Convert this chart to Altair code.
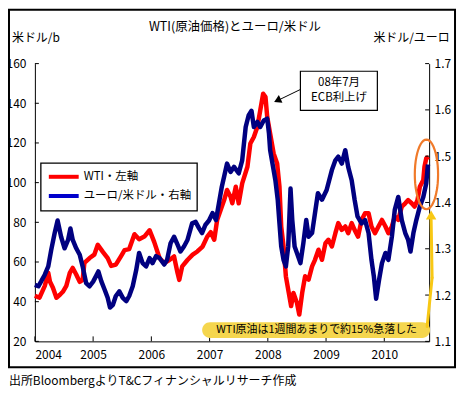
import math
import altair as alt
import pandas as pd

# ---------------- data ----------------
wti_t = [2004.00, 2004.08, 2004.17, 2004.23, 2004.26, 2004.31, 2004.37, 2004.43, 2004.48, 2004.54,
         2004.60, 2004.65, 2004.71, 2004.77, 2004.82, 2004.85, 2004.94, 2005.02, 2005.08, 2005.17,
         2005.25, 2005.31, 2005.39, 2005.48, 2005.54, 2005.62, 2005.71, 2005.79, 2005.88, 2005.97,
         2006.05, 2006.14, 2006.22, 2006.31, 2006.39, 2006.45, 2006.48, 2006.53, 2006.62, 2006.71,
         2006.79, 2006.88, 2006.96, 2007.02, 2007.08, 2007.13, 2007.19, 2007.25, 2007.30, 2007.36,
         2007.39, 2007.45, 2007.50, 2007.56, 2007.65, 2007.70, 2007.76, 2007.82, 2007.87, 2007.92,
         2007.96, 2007.99, 2008.04, 2008.10, 2008.16, 2008.20, 2008.23, 2008.27, 2008.31, 2008.36,
         2008.40, 2008.44, 2008.50, 2008.54, 2008.59, 2008.64, 2008.70, 2008.76, 2008.81, 2008.87,
         2008.93, 2008.99, 2009.04, 2009.10, 2009.16, 2009.21, 2009.27, 2009.33, 2009.38, 2009.44,
         2009.49, 2009.55, 2009.61, 2009.67, 2009.73, 2009.78, 2009.84, 2009.90, 2009.96, 2010.02,
         2010.07, 2010.13, 2010.18, 2010.24, 2010.30, 2010.36, 2010.41, 2010.47, 2010.52, 2010.57,
         2010.61, 2010.67, 2010.69, 2010.72, 2010.76]
wti_v = [43, 42, 48, 54.5, 50, 47, 42, 43.5, 45, 48,
         54.5, 57, 53.7, 50, 51, 59.5, 62, 63.7, 68.7, 65,
         62, 58, 58.7, 63, 66, 66.5, 74, 71.5, 72.8, 76,
         70, 62, 59.5, 61, 62.8, 54.5, 51, 57.8, 61, 63.7,
         65.3, 67.8, 72.8, 75, 71.2, 81.2, 86.2, 91.2, 96.3, 92.9,
         89.6, 97.9, 89.6, 99.6, 108, 119.7, 123, 128, 136.4, 144.8,
         143.1, 133, 124.7, 114.7, 109.7, 97.9, 77.9, 67.8, 52.8, 44.4,
         37.8, 44.4, 39.4, 33.5, 44.4, 52.8, 51.1, 57.8, 61.1, 66.2,
         61.1, 69.5, 71.2, 67.8, 74.5, 79.6, 76.2, 77.9, 74.5, 79.6,
         76.2, 72.8, 81.2, 84.6, 84.6, 77.9, 74.5, 77.9, 81.2, 77.9,
         74.5, 77.9, 82.9, 81.2, 87.9, 89.6, 91.2, 89.6, 87.9, 91.2,
         97.9, 101.3, 108, 112.2, 113]

eur_t = [2004.00, 2004.06, 2004.11, 2004.17, 2004.23, 2004.28, 2004.34, 2004.39, 2004.45, 2004.51,
         2004.57, 2004.61, 2004.65, 2004.71, 2004.77, 2004.82, 2004.88, 2004.94, 2005.00, 2005.05,
         2005.09, 2005.14, 2005.20, 2005.25, 2005.29, 2005.34, 2005.39, 2005.45, 2005.51, 2005.57,
         2005.62, 2005.68, 2005.74, 2005.79, 2005.85, 2005.91, 2005.97, 2006.02, 2006.08, 2006.14,
         2006.22, 2006.27, 2006.33, 2006.39, 2006.45, 2006.50, 2006.56, 2006.62, 2006.70, 2006.76,
         2006.82, 2006.87, 2006.93, 2006.99, 2007.05, 2007.11, 2007.16, 2007.21, 2007.25, 2007.30,
         2007.36, 2007.42, 2007.50, 2007.56, 2007.62, 2007.67, 2007.72, 2007.76, 2007.82, 2007.87,
         2007.93, 2007.99, 2008.02, 2008.04, 2008.09, 2008.13, 2008.17, 2008.20, 2008.23, 2008.27,
         2008.31, 2008.35, 2008.39, 2008.42, 2008.46, 2008.50, 2008.56, 2008.61, 2008.66, 2008.70,
         2008.76, 2008.81, 2008.86, 2008.93, 2009.01, 2009.10, 2009.16, 2009.21, 2009.27, 2009.33,
         2009.38, 2009.44, 2009.49, 2009.54, 2009.61, 2009.67, 2009.73, 2009.78, 2009.82, 2009.86,
         2009.91, 2009.96, 2010.02, 2010.07, 2010.13, 2010.18, 2010.24, 2010.30, 2010.36, 2010.41,
         2010.45, 2010.50, 2010.55, 2010.61, 2010.67, 2010.72, 2010.75]
eur_v = [1.222, 1.219, 1.230, 1.244, 1.262, 1.297, 1.334, 1.361, 1.326, 1.301,
         1.319, 1.344, 1.319, 1.301, 1.287, 1.262, 1.226, 1.219, 1.229, 1.241,
         1.251, 1.230, 1.211, 1.194, 1.173, 1.179, 1.198, 1.208, 1.194, 1.187,
         1.198, 1.219, 1.254, 1.291, 1.269, 1.262, 1.280, 1.269, 1.284, 1.280,
         1.266, 1.276, 1.312, 1.326, 1.309, 1.294, 1.305, 1.319, 1.355, 1.358,
         1.344, 1.334, 1.352, 1.361, 1.377, 1.362, 1.398, 1.434, 1.456, 1.484,
         1.466, 1.477, 1.463, 1.491, 1.563, 1.588, 1.598, 1.563, 1.574, 1.563,
         1.577, 1.581, 1.549, 1.513, 1.477, 1.448, 1.406, 1.355, 1.305, 1.276,
         1.262, 1.305, 1.430, 1.362, 1.305, 1.291, 1.269, 1.312, 1.362, 1.326,
         1.334, 1.377, 1.420, 1.406, 1.427, 1.470, 1.491, 1.499, 1.484, 1.513,
         1.477, 1.448, 1.406, 1.370, 1.355, 1.362, 1.334, 1.276, 1.241, 1.192,
         1.233, 1.269, 1.291, 1.276, 1.326, 1.384, 1.412, 1.362, 1.334, 1.319,
         1.294, 1.334, 1.362, 1.391, 1.412, 1.441, 1.482]

series_names = ["WTI・左軸", "ユーロ/米ドル・右軸"]
series_colors = ["#ff0000", "#000080"]
legend_colors = ["#ff0000", "#0000cc"]
left_ticks = [20, 40, 60, 80, 100, 120, 140, 160]
right_ticks = [1.1, 1.2, 1.3, 1.4, 1.5, 1.6, 1.7]
year_ticks = [2004, 2005, 2006, 2007, 2008, 2009, 2010]

FONT = "Noto Sans CJK JP"
W, H = 396, 279

wti_df = pd.DataFrame({"t": wti_t, "v": wti_v, "s": series_names[0]})
eur_df = pd.DataFrame({"t": eur_t, "v": eur_v, "s": series_names[1]})
one = pd.DataFrame({"a": [0]})

x_enc = alt.X("t:Q", scale=alt.Scale(domain=[2004, 2010.77], nice=False, zero=False),
              axis=alt.Axis(values=year_ticks, format="d", title=None, ticks=False, grid=False,
                            labelPadding=8, labelFontSize=12, labelFont=FONT, labelColor="black",
                            domainColor="black", domainWidth=1))
yl_enc = alt.Y("v:Q", scale=alt.Scale(domain=[20, 160], nice=False, zero=False),
               axis=alt.Axis(orient="left", values=left_ticks, title=None, ticks=False, grid=False,
                             labelPadding=9, labelFontSize=12, labelFont=FONT, labelColor="black",
                             domainColor="black", domainWidth=1))
yr_enc = alt.Y("v:Q", scale=alt.Scale(domain=[1.1, 1.7], nice=False, zero=False),
               axis=alt.Axis(orient="right", values=right_ticks, format=".1f", title=None, ticks=False,
                             grid=False, labelPadding=5, labelFontSize=12, labelFont=FONT,
                             labelColor="black", domainColor="black", domainWidth=1))
color_enc = alt.Color("s:N", scale=alt.Scale(domain=series_names, range=series_colors), legend=None)

red_line = alt.Chart(wti_df).mark_line(strokeWidth=4.5, strokeJoin="round").encode(
    x=x_enc, y=yl_enc, color=color_enc)
blue_line = alt.Chart(eur_df).mark_line(strokeWidth=4.5, strokeJoin="round").encode(
    x=x_enc, y=yr_enc, color=color_enc)

left_tick_marks = alt.Chart(pd.DataFrame({"v": left_ticks})).mark_rule(color="black").encode(
    y=yl_enc, x=alt.value(0), x2=alt.value(4))
right_tick_marks = alt.Chart(pd.DataFrame({"v": right_ticks})).mark_rule(color="black").encode(
    y=yr_enc, x=alt.value(W - 4), x2=alt.value(W))
x_tick_marks = alt.Chart(pd.DataFrame({"t": year_ticks})).mark_rule(color="black").encode(
    x=x_enc, y=alt.value(H - 5), y2=alt.value(H))


def txt(s, x, y, size=12, align="left"):
    return alt.Chart(one).mark_text(text=s, font=FONT, fontSize=size, align=align,
                                    baseline="middle", color="black").encode(
        x=alt.value(x), y=alt.value(y))


def rect(x, x2, y, y2, **kw):
    return alt.Chart(one).mark_rect(**kw).encode(
        x=alt.value(x), x2=alt.value(x2), y=alt.value(y), y2=alt.value(y2))


def seg(x, y, x2, y2, **kw):
    return alt.Chart(one).mark_rule(**kw).encode(
        x=alt.value(x), y=alt.value(y), x2=alt.value(x2), y2=alt.value(y2))


def pt(x, y, **kw):
    return alt.Chart(one).mark_point(**kw).encode(x=alt.value(x), y=alt.value(y))


# ellipse outline shape (unit path, scaled by sqrt(size)/2)
n = 48
ell = "M" + " L".join(
    f"{0.334 * math.sin(2 * math.pi * i / n):.3f},{-math.cos(2 * math.pi * i / n):.3f}" for i in range(n)
) + " Z"

decor = [
    # outer frame
    rect(-26, 422, -54, 305, fill=None, filled=False, stroke="black", strokeWidth=2),
    txt("WTI(原油価格)とユーロ/米ドル", 201, -37, 12.5, "center"),
    txt("米ドル/b", -23, -26, 12),
    txt("米ドル/ユーロ", 340, -26, 12),
    txt("出所BloombergよりT&Cフィナンシャルリサーチ作成", -26, 319, 12),
    # legend (drawn by hand to match the compact box)
    rect(6, 163, 100, 148, fill="white", stroke="black", strokeWidth=1.3),
    seg(14, 113.7, 44, 113.7, color=legend_colors[0], strokeWidth=4),
    seg(14, 133, 44, 133, color=legend_colors[1], strokeWidth=4),
    txt(series_names[0], 49, 113.7, 11.5),
    txt(series_names[1], 49, 133, 11.5),
    # ECB annotation
    rect(266.7, 344, 7.7, 47, fill="white", stroke="black", strokeWidth=1.2),
    txt("08年7月", 305.5, 19.5, 11.5, "center"),
    txt("ECB利上げ", 305.5, 34.5, 11.5, "center"),
    seg(266.7, 26, 244, 37, color="black", strokeWidth=1),
    pt(243.6, 37, shape="triangle-up", size=70, filled=True, color="black", opacity=1,
       angle=244.6),
    # orange ellipse
    pt(393.3, 111.3, shape=ell, size=4900, filled=False, stroke="#f07a2a", strokeWidth=2.2,
       opacity=1),
    # yellow callout
    rect(168, 397, 259.7, 275.5, fill="#f5d64e", cornerRadius=8),
    txt("WTI原油は1週間あまりで約15%急落した", 283, 267.5, 11, "center"),
    seg(394, 264, 399, 215, color="#f8c814", strokeWidth=3, strokeCap="round"),
    seg(399, 215, 398, 157, color="#f8c814", strokeWidth=3, strokeCap="round"),
    pt(398, 152, shape="triangle-up", size=110, filled=True, color="#f8c814", opacity=1),
]

left_group = alt.layer(red_line, left_tick_marks, x_tick_marks)
right_group = alt.layer(blue_line, right_tick_marks, *decor)

chart = alt.layer(left_group, right_group).resolve_scale(y="independent").properties(
    width=W, height=H,
    autosize=alt.AutoSizeParams(type="none"),
    padding={"left": 27, "top": 55, "right": 30, "bottom": 46},
    background="white",
).configure_view(stroke=None)

chart.save("out.html", embed_options={"renderer": "svg", "actions": False})
